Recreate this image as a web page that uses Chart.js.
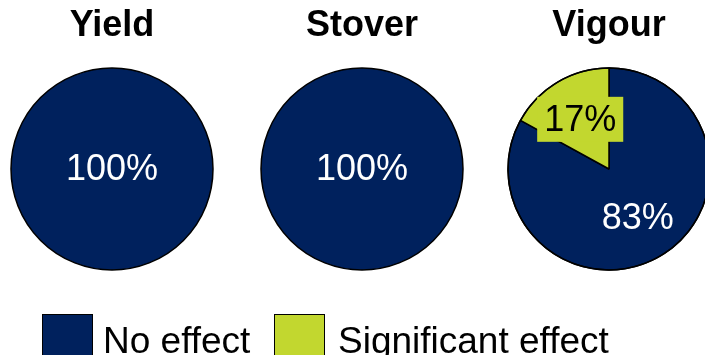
<!DOCTYPE html>
<html>
<head>
<meta charset="utf-8">
<script src="https://cdn.jsdelivr.net/npm/chart.js@4.4.1/dist/chart.umd.min.js"></script>
<style>
  html, body { margin: 0; padding: 0; background: #fff; }
  body { width: 705px; height: 355px; position: relative; overflow: hidden; font-family: "Liberation Sans", Arial, sans-serif; }
  .pie { position: absolute; top: 0; width: 250px; height: 355px; }
  #legend { position: absolute; left: 0; top: 0; width: 705px; height: 355px; pointer-events: none; }
  .lg-box { position: absolute; top: 314px; width: 51px; height: 50px; border: 1px solid #000; box-sizing: border-box; }
  .lg-text { position: absolute; top: 320px; font-size: 37px; line-height: normal; color: #000; white-space: nowrap; }
</style>
</head>
<body>
<canvas id="pie0" class="pie" width="250" height="355"></canvas>
<canvas id="pie1" class="pie" width="250" height="355"></canvas>
<canvas id="pie2" class="pie" width="250" height="355"></canvas>
<div id="legend"></div>
<script>
// Share of trials per outcome class, one pie per trait
const categories = ['No effect', 'Significant effect'];
const panels = ['Yield', 'Stover', 'Vigour'];
const yieldShare = [100, 0];
const stoverShare = [100, 0];
const vigourShare = [83, 17];
const panelValues = [yieldShare, stoverShare, vigourShare];

// Styling
const FONT = '"Liberation Sans", Arial, sans-serif';
const NAVY = '#00215d';
const LIME = '#c2d72f';
const sliceColors = [NAVY, LIME];
const labelColors = ['#ffffff', '#000000'];
const labelBoxes = [null, LIME];     // filled box behind the label text
const pieCentersX = [112, 362, 609];
const RADIUS = 101;

// Outline + percentage labels drawn on top of the arcs
const pieDecor = {
  id: 'pieDecor',
  afterDatasetsDraw(chart) {
    const ctx = chart.ctx;
    const meta = chart.getDatasetMeta(0);
    const data = chart.data.datasets[0].data;
    const total = data.reduce((a, b) => a + b, 0);
    const arcs = meta.data;
    if (!arcs.length) return;
    const cx = arcs[0].x, cy = arcs[0].y, r = arcs[0].outerRadius;

    ctx.save();
    ctx.strokeStyle = '#000';
    ctx.lineWidth = 1.5;
    ctx.beginPath();
    ctx.arc(cx, cy, r, 0, Math.PI * 2);
    ctx.stroke();
    ctx.restore();

    arcs.forEach((arc, i) => {
      const v = data[i];
      if (!v) return;
      const pct = Math.round(v / total * 100) + '%';
      let x = cx, y = cy;
      if (v < total) {
        const mid = (arc.startAngle + arc.endAngle) / 2;
        x = cx + Math.cos(mid) * r * 0.56;
        y = cy + Math.sin(mid) * r * 0.56;
      }
      ctx.save();
      ctx.font = '36px ' + FONT;
      ctx.textAlign = 'center';
      ctx.textBaseline = 'middle';
      if (labelBoxes[i]) {
        const w = ctx.measureText(pct).width + 14;
        const h = 45;
        ctx.fillStyle = labelBoxes[i];
        ctx.fillRect(x - w / 2, y - h / 2 - 1, w, h);
      }
      ctx.fillStyle = labelColors[i];
      ctx.fillText(pct, x, y + 1);
      ctx.restore();
    });
  }
};

panels.forEach((name, p) => {
  const canvas = document.getElementById('pie' + p);
  canvas.style.left = (pieCentersX[p] - 125) + 'px';
  const values = panelValues[p];
  const total = values.reduce((a, b) => a + b, 0);
  new Chart(canvas, {
    type: 'pie',
    data: {
      labels: categories,
      datasets: [{
        data: values,
        backgroundColor: sliceColors,
        borderColor: '#000',
        // the full-circle slice gets its outline from the plugin instead
        borderWidth: c => (values[c.dataIndex] === total ? 0 : 1.5)
      }]
    },
    options: {
      responsive: false,
      animation: false,
      radius: RADIUS,
      layout: { padding: { left: 10, right: 10, top: 0, bottom: 86 } },
      plugins: {
        legend: { display: false },
        tooltip: { enabled: false },
        title: {
          display: true,
          text: name,
          color: '#000',
          font: { family: FONT, size: 36, weight: 'bold', lineHeight: 1.2 },
          padding: { top: 4, bottom: 21.8 }
        }
      }
    },
    plugins: [pieDecor]
  });
});

// Shared legend below the pies
const legend = document.getElementById('legend');
const legendBoxX = [42, 274];
const legendTextX = [103, 338];
categories.forEach((cat, i) => {
  const box = document.createElement('div');
  box.className = 'lg-box';
  box.style.left = legendBoxX[i] + 'px';
  box.style.background = sliceColors[i];
  legend.appendChild(box);
  const t = document.createElement('div');
  t.className = 'lg-text';
  t.style.left = legendTextX[i] + 'px';
  t.textContent = cat;
  legend.appendChild(t);
});
</script>
</body>
</html>
